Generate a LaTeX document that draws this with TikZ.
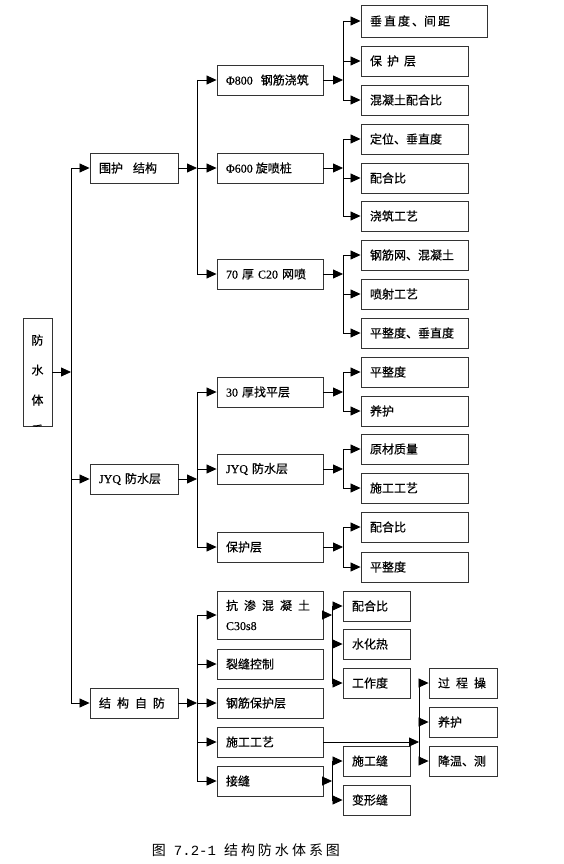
\documentclass[tikz,border=0pt]{standalone}
\usepackage{fontspec}
\setmainfont{Noto Sans CJK SC}[FakeBold=0.4]
\newfontfamily\lat{Liberation Serif}[FakeBold=0.4]
\newfontfamily\capfont{Noto Sans CJK SC}
\newfontfamily\mono{Liberation Mono}
\usetikzlibrary{arrows.meta}
\newcommand\gp[1]{\hspace{#1pt}}
\begin{document}
\begin{tikzpicture}[x=1pt,y=-1pt,
  ln/.style={line width=0.8pt},
  arr/.style={line width=0.8pt,-{Triangle[length=10pt,width=9pt]}},
  bx/.style={draw=black!80,line width=0.9pt,inner xsep=9pt,inner ysep=0pt,align=left,minimum height=30pt,font=\fontsize{12}{14}\selectfont},
  w1/.style={bx,text width=70pt},
  w2/.style={bx,text width=88pt},
  w3/.style={bx,text width=89pt},
  w4/.style={bx,text width=49pt},
  w5/.style={bx,text width=50pt}]
\useasboundingbox (0,0) rectangle (564,864);
\coordinate (T) at (71,0);
\coordinate (J2) at (197,0);
\coordinate (J3) at (343,0);
\coordinate (Jg) at (332,0);
\coordinate (Jk) at (419,0);
% root
\node[draw=black!80,line width=0.9pt,minimum width=29pt,minimum height=108pt,inner sep=0pt] (fs) at (37.5,372) {};
\begin{scope}
\clip (fs.north west) rectangle (fs.south east);
\node[font=\fontsize{12}{30}\selectfont,align=center,inner sep=0pt] (fst) at (37.5,385) {防\\水\\体\\系};
\end{scope}
% level 1
\node[w1] (wh) at (134,168) {围护\gp{10}结构};
\node[w1] (jyq1) at (134,479) {{\lat JYQ} 防水层};
\node[w1] (zj) at (134,703) {结\gp{6}构\gp{6}自\gp{6}防};
% level 2
\node[w2] (p800) at (270,80) {{\lat Φ800}\gp{8}钢筋浇筑};
\node[w2] (p600) at (270,168) {{\lat Φ600}\gp{3}旋喷桩};
\node[w2] (c20) at (270,274) {{\lat 70} 厚 {\lat C20} 网喷};
\node[w2] (zp) at (270,392) {{\lat 30} 厚找平层};
\node[w2] (jyq2) at (270,469) {{\lat JYQ} 防水层};
\node[w2] (bhc) at (270,547) {保护层};
\node[w2,minimum height=48pt,font=\fontsize{12}{20}\selectfont] (ks) at (270,615) {抗\gp{6}渗\gp{6}混\gp{6}凝\gp{6}土\\{\lat C30s8}};
\node[w2] (lf) at (270,664) {裂缝控制};
\node[w2] (gj) at (270,703) {钢筋保护层};
\node[w2] (sg) at (270,742) {施工工艺};
\node[w2] (jf) at (270,781) {接缝};
% level 3
\node[bx,text width=108pt,minimum height=32pt] (a1) at (424,21) {垂\gp{2}直\gp{2}度\gp{2}、间\gp{2}距};
\node[w3] (a2) at (414.5,61) {保\gp{5}护\gp{5}层};
\node[w3] (a3) at (414.5,100) {混凝土配合比};
\node[w3] (b1) at (414.5,139) {定位、垂直度};
\node[w3] (b2) at (414.5,178) {配合比};
\node[w3] (b3) at (414.5,216) {浇筑工艺};
\node[w3] (c1) at (414.5,255) {钢筋网、混凝土};
\node[w3] (c2) at (414.5,294) {喷射工艺};
\node[w3] (c3) at (414.5,333) {平整度、垂直度};
\node[w3] (d1) at (414.5,372) {平整度};
\node[w3] (d2) at (414.5,411) {养护};
\node[w3] (e1) at (414.5,449) {原材质量};
\node[w3] (e2) at (414.5,488) {施工工艺};
\node[w3] (f1) at (414.5,527) {配合比};
\node[w3] (f2) at (414.5,567) {平整度};
% small
\node[w4] (g1) at (376.5,606) {配合比};
\node[w4] (g2) at (376.5,644) {水化热};
\node[w4] (g3) at (376.5,683) {工作度};
\node[w4] (h1) at (376.5,761) {施工缝};
\node[w4] (h2) at (376.5,800) {变形缝};
% level 4
\node[w5] (k1) at (463,683) {过\gp{6}程\gp{6}操};
\node[w5] (k2) at (463,722) {养护};
\node[w5] (k3) at (463,761) {降温、测};
% caption
\node[inner sep=0pt,font=\capfont\fontsize{14}{16}\selectfont] (cap) at (246,850) {图\gp{8}{\mono 7.2-1}\gp{8}结\gp{3}构\gp{3}防\gp{3}水\gp{3}体\gp{3}系\gp{3}图};
% connectors root
\draw[arr] (fs.east) -- (fs.east -| T);
\draw[ln] (wh.west -| T) -- (zj.west -| T);
\foreach \n in {wh,jyq1,zj} \draw[arr] (\n.west -| T) -- (\n.west);
% level1 -> level2
\draw[arr] (wh.east) -- (wh.east -| J2);
\draw[ln] (p800.west -| J2) -- (c20.west -| J2);
\foreach \n in {p800,p600,c20} \draw[arr] (\n.west -| J2) -- (\n.west);
\draw[arr] (jyq1.east) -- (jyq1.east -| J2);
\draw[ln] (zp.west -| J2) -- (bhc.west -| J2);
\foreach \n in {zp,jyq2,bhc} \draw[arr] (\n.west -| J2) -- (\n.west);
\draw[arr] (zj.east) -- (zj.east -| J2);
\draw[ln] (ks.west -| J2) -- (jf.west -| J2);
\foreach \n in {ks,lf,gj,sg,jf} \draw[arr] (\n.west -| J2) -- (\n.west);
% level2 -> level3
\draw[arr] (p800.east) -- (p800.east -| J3);
\draw[ln] (a1.west -| J3) -- (a3.west -| J3);
\foreach \n in {a1,a2,a3} \draw[arr] (\n.west -| J3) -- (\n.west);
\draw[arr] (p600.east) -- (p600.east -| J3);
\draw[ln] (b1.west -| J3) -- (b3.west -| J3);
\foreach \n in {b1,b2,b3} \draw[arr] (\n.west -| J3) -- (\n.west);
\draw[arr] (c20.east) -- (c20.east -| J3);
\draw[ln] (c1.west -| J3) -- (c3.west -| J3);
\foreach \n in {c1,c2,c3} \draw[arr] (\n.west -| J3) -- (\n.west);
\draw[arr] (zp.east) -- (zp.east -| J3);
\draw[ln] (d1.west -| J3) -- (d2.west -| J3);
\foreach \n in {d1,d2} \draw[arr] (\n.west -| J3) -- (\n.west);
\draw[arr] (jyq2.east) -- (jyq2.east -| J3);
\draw[ln] (e1.west -| J3) -- (e2.west -| J3);
\foreach \n in {e1,e2} \draw[arr] (\n.west -| J3) -- (\n.west);
\draw[arr] (bhc.east) -- (bhc.east -| J3);
\draw[ln] (f1.west -| J3) -- (f2.west -| J3);
\foreach \n in {f1,f2} \draw[arr] (\n.west -| J3) -- (\n.west);
% ks, jf, sg groups
\draw[arr] (ks.east) -- (ks.east -| Jg);
\draw[ln] (g1.west -| Jg) -- (g3.west -| Jg);
\foreach \n in {g1,g2,g3} \draw[arr] (\n.west -| Jg) -- (\n.west);
\draw[arr] (jf.east) -- (jf.east -| Jg);
\draw[ln] (h1.west -| Jg) -- (h2.west -| Jg);
\foreach \n in {h1,h2} \draw[arr] (\n.west -| Jg) -- (\n.west);
\draw[arr] (sg.east) -- (sg.east -| Jk);
\draw[ln] (k1.west -| Jk) -- (k3.west -| Jk);
\foreach \n in {k1,k2,k3} \draw[arr] (\n.west -| Jk) -- (\n.west);
\end{tikzpicture}
\end{document}
